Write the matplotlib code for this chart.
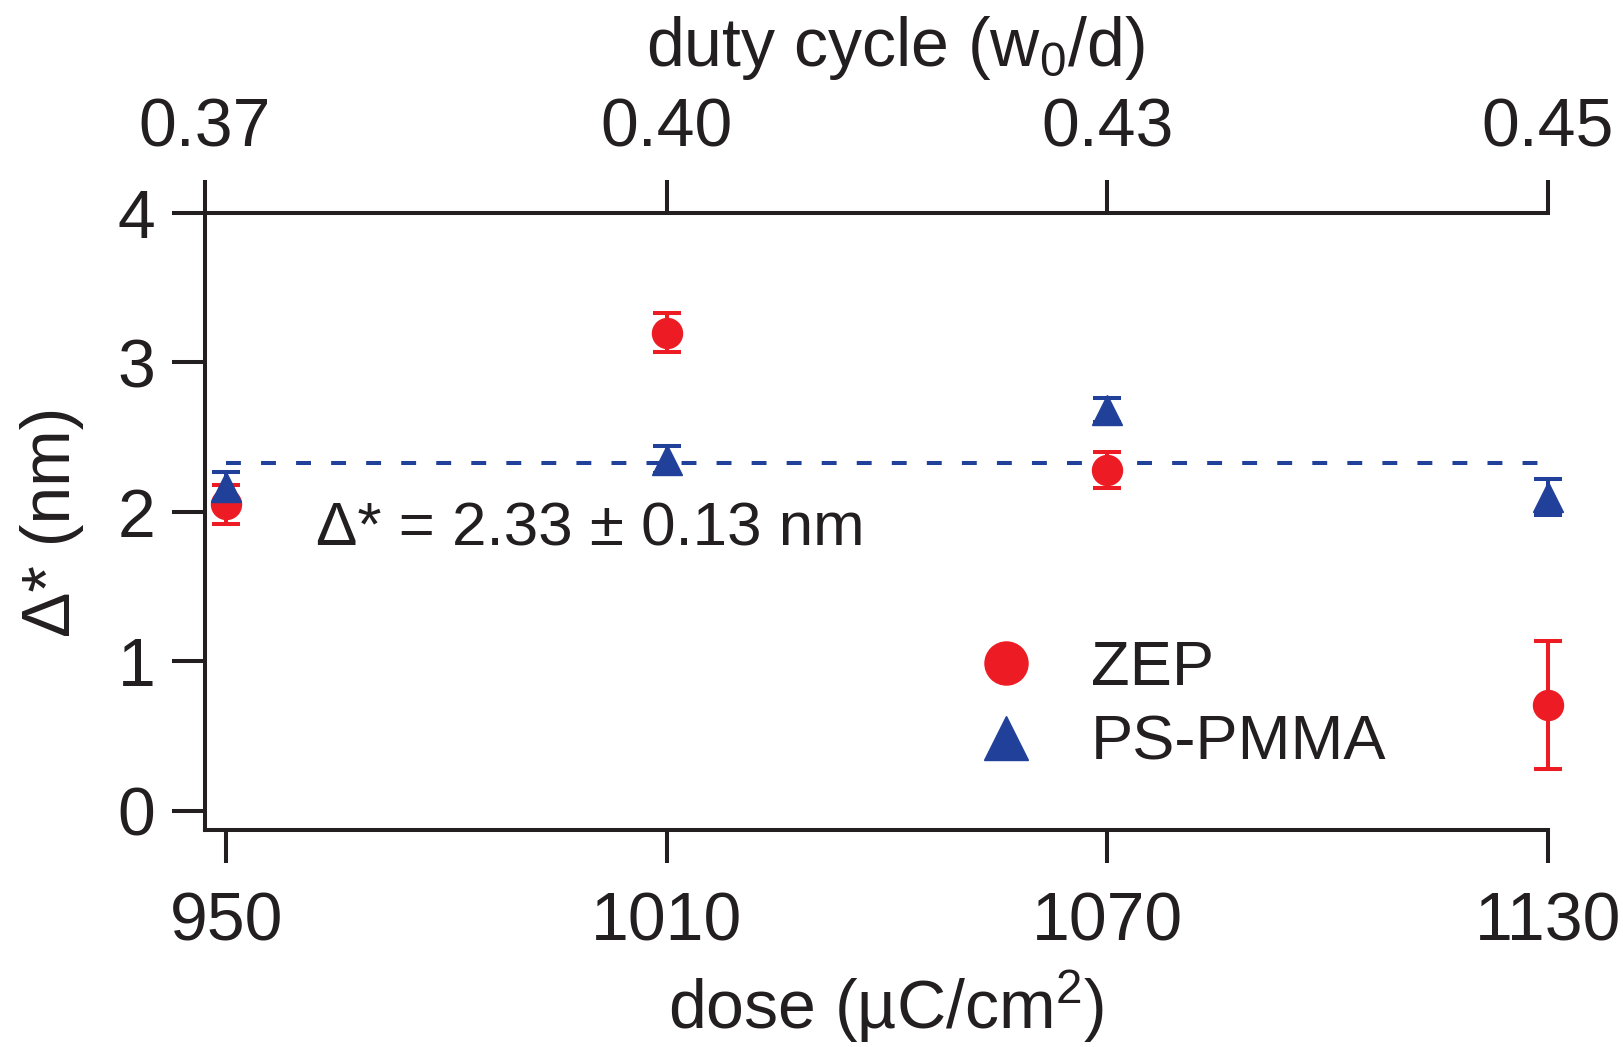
import matplotlib
matplotlib.use("Agg")
import matplotlib.pyplot as plt
from matplotlib.lines import Line2D

plt.rcParams['font.family'] = ['Liberation Sans', 'DejaVu Sans']
plt.rcParams['mathtext.fontset'] = 'custom'
plt.rcParams['mathtext.rm'] = 'Liberation Sans'
plt.rcParams['mathtext.it'] = 'Liberation Sans'

# dawka (uC/cm^2) i odpowiadajacy jej wspolczynnik wypelnienia
dawka = [950, 1010, 1070, 1130]
wypelnienie = ["0.37", "0.40", "0.43", "0.45"]

# Delta* dla ZEP
zep = [2.05, 3.20, 2.28, 0.71]
zep_err = [0.13, 0.13, 0.12, 0.43]

# Delta* dla PS-PMMA
pspmma = [2.17, 2.35, 2.68, 2.10]
pspmma_err = [0.10, 0.09, 0.08, 0.12]

srednia = 2.33
srednia_err = 0.13

czerwony = '#ED1C24'
niebieski = '#21409A'
czarny = '#231F20'

fs = 49
lw = 2.9

fig = plt.figure(figsize=(16.23, 10.47), dpi=100)
ax = fig.add_axes([0.1263, 0.2073, 0.8275, 0.5893])

x_min = 947.1
ax.set_xlim(x_min, 1130)
ax.set_ylim(-0.127, 4)

# linia przerywana - srednia
ax.plot([dawka[0], dawka[-1]], [srednia, srednia], color=niebieski, lw=lw,
        dashes=(3.7, 5), zorder=1, clip_on=False)

ax.errorbar(dawka, zep, yerr=zep_err, fmt='o', color=czerwony, ms=21.6,
            elinewidth=lw, capsize=10, capthick=lw, zorder=3, clip_on=False)
ax.errorbar(dawka, pspmma, yerr=pspmma_err, fmt='^', color=niebieski, ms=21.6,
            elinewidth=lw, capsize=10, capthick=lw, zorder=4, clip_on=False)

ax.text(962.2, 1.88, "Δ* = %.2f ± %.2f nm" % (srednia, srednia_err),
        fontsize=44.6, color=czarny, va='center', ha='left')

uchwyty = [Line2D([], [], ls='none', marker='o', ms=31, color=czerwony),
           Line2D([], [], ls='none', marker='^', ms=31, color=niebieski)]
ax.legend(uchwyty, ["ZEP", "PS-PMMA"], frameon=False, fontsize=45.5,
          loc='center left', bbox_to_anchor=(0.571, 0.201), handlelength=1.08,
          handletextpad=0.8, labelspacing=0.25, borderpad=0,
          borderaxespad=0, labelcolor=czarny)

# osie
for s in ['top', 'right']:
    ax.spines[s].set_visible(False)
for s in ['left', 'bottom']:
    ax.spines[s].set_linewidth(lw)
    ax.spines[s].set_color(czarny)

ax.set_xticks(dawka)
ax.set_xticklabels([str(d) for d in dawka])
ax.set_yticks([0, 1, 2, 3, 4])
ax.tick_params(direction='out', length=23.8, width=lw, color=czarny,
               labelsize=fs, labelcolor=czarny)
ax.tick_params(axis='x', pad=20)
ax.tick_params(axis='y', pad=12)
ax.set_xlabel("dose (µC/cm$^{2}$)", fontsize=fs, color=czarny, labelpad=10)
ax.xaxis.label.set_x(0.507)
ax.set_ylabel("Δ* (nm)", fontsize=fs, color=czarny, labelpad=24)

# gorna os - duty cycle
ax2 = ax.twiny()
ax2.set_xlim(ax.get_xlim())
ax2.set_xticks([x_min] + dawka[1:])
ax2.set_xticklabels(wypelnienie)
for s in ['left', 'right', 'bottom']:
    ax2.spines[s].set_visible(False)
ax2.spines['top'].set_linewidth(lw)
ax2.spines['top'].set_color(czarny)
ax2.tick_params(direction='out', length=23.8, width=lw, color=czarny,
                labelsize=fs, labelcolor=czarny, pad=14)
ax2.set_xlabel("duty cycle (w$_0$/d)", fontsize=fs, color=czarny, labelpad=22)
ax2.xaxis.label.set_x(0.514)

fig.savefig("out.png", dpi=100)
